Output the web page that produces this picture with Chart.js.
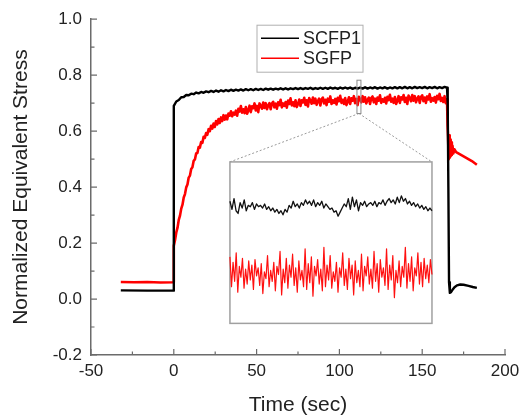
<!DOCTYPE html>
<html>
<head>
<meta charset="utf-8">
<script src="https://cdn.jsdelivr.net/npm/chart.js@4.4.1/dist/chart.umd.min.js"></script>
<style>
  html, body { margin: 0; padding: 0; background: #fff; }
</style>
</head>
<body>
<canvas id="myChart" width="528" height="419"></canvas>
<script>
// ---- data ----
var seriesNames = ['SCFP1', 'SGFP'];
var xTicks = [-50, 0, 50, 100, 150, 200];
var yTicks = [-0.2, 0.0, 0.2, 0.4, 0.6, 0.8, 1.0];

// SCFP1 (black): baseline, loaded plateau (sampled every 1.5 s from t = 0), unloading
var scfpPreTime = [-32, -16, 0];
var scfpPre = [0.031, 0.030, 0.030];
var scfpStep = 1.5;
var scfpMain = [
  0.690,0.706,0.711,0.721,0.722,0.729,0.728,0.734,0.732,0.738,
  0.735,0.740,0.737,0.742,0.739,0.744,0.740,0.745,0.741,0.746,
  0.742,0.747,0.743,0.748,0.744,0.748,0.745,0.749,0.745,0.750,
  0.746,0.750,0.746,0.751,0.747,0.751,0.747,0.752,0.748,0.752,
  0.748,0.752,0.749,0.753,0.749,0.753,0.749,0.753,0.750,0.754,
  0.750,0.754,0.750,0.754,0.751,0.755,0.750,0.754,0.751,0.755,
  0.751,0.755,0.751,0.756,0.752,0.755,0.751,0.756,0.752,0.756,
  0.752,0.756,0.751,0.755,0.752,0.756,0.752,0.757,0.752,0.756,
  0.753,0.757,0.752,0.756,0.753,0.757,0.752,0.756,0.753,0.757,
  0.753,0.757,0.753,0.758,0.753,0.757,0.753,0.758,0.754,0.757,
  0.754,0.758,0.753,0.757,0.754,0.758,0.753,0.757,0.754,0.758,
  0.755
];
var scfpTailTime = [165.4, 165.8, 166.2, 166.7, 167.3, 168.2, 169.5, 171, 173, 175, 178, 180.5, 183];
var scfpTail = [0.70, 0.40, 0.06, 0.022, 0.024, 0.032, 0.042, 0.049, 0.052, 0.051, 0.047, 0.043, 0.040];

// SGFP (red): loaded part sampled every 0.75 s from t = 0
var sgfpPreTime = [-32, -24, -16, -8, 0];
var sgfpPre = [0.061, 0.060, 0.061, 0.059, 0.060];
var sgfpStep = 0.75;
var sgfpMain = [
  0.190,0.211,0.238,0.255,0.283,0.298,0.323,0.337,0.363,0.375,
  0.399,0.409,0.434,0.441,0.465,0.471,0.494,0.499,0.520,0.522,
  0.543,0.541,0.561,0.558,0.580,0.576,0.593,0.587,0.607,0.600,
  0.619,0.609,0.627,0.615,0.636,0.624,0.643,0.629,0.649,0.636,
  0.657,0.641,0.656,0.642,0.663,0.655,0.671,0.653,0.666,0.659,
  0.673,0.655,0.680,0.670,0.690,0.666,0.678,0.664,0.686,0.662,
  0.674,0.691,0.668,0.689,0.682,0.699,0.674,0.690,0.668,0.699,
  0.690,0.680,0.702,0.683,0.700,0.678,0.692,0.700,0.678,0.699,
  0.705,0.685,0.698,0.680,0.703,0.693,0.712,0.685,0.699,0.690,
  0.704,0.684,0.709,0.697,0.717,0.692,0.703,0.689,0.710,0.686,
  0.697,0.713,0.690,0.710,0.703,0.719,0.694,0.710,0.688,0.718,
  0.709,0.698,0.720,0.700,0.716,0.694,0.707,0.716,0.692,0.714,
  0.720,0.699,0.712,0.693,0.716,0.705,0.724,0.697,0.710,0.701,
  0.715,0.695,0.719,0.707,0.726,0.701,0.712,0.697,0.718,0.693,
  0.705,0.721,0.697,0.717,0.709,0.725,0.700,0.715,0.693,0.723,
  0.714,0.703,0.725,0.705,0.721,0.699,0.712,0.720,0.697,0.718,
  0.724,0.703,0.716,0.697,0.720,0.709,0.728,0.701,0.714,0.705,
  0.719,0.699,0.723,0.711,0.730,0.705,0.716,0.701,0.722,0.697,
  0.709,0.725,0.701,0.721,0.713,0.729,0.704,0.719,0.697,0.727,
  0.718,0.707,0.729,0.709,0.725,0.703,0.716,0.724,0.701,0.722,
  0.728,0.707,0.720,0.701,0.724,0.713,0.732,0.705,0.718,0.709,
  0.722,0.702,0.726,0.714,0.733,0.708,0.719,0.704,0.725,0.700,
  0.714
];
var sgfpTailTime = [165.3, 165.6, 166, 166.3, 166.6, 166.9, 167.2, 167.5, 167.9, 168.3, 168.8, 169.5, 170.5, 175, 180, 183];
var sgfpTail = [0.62, 0.58, 0.50, 0.585, 0.505, 0.57, 0.51, 0.56, 0.515, 0.548, 0.52, 0.535, 0.525, 0.51, 0.493, 0.48];

// inset: zoom window (time, stress) and where the enlarged view sits (main axis units)
var zoomTime = [110.6, 113.0];
var zoomStress = [0.663, 0.782];
var insetBoxTime = [33.9, 155.9];
var insetBoxStress = [-0.087, 0.49];

var insetScfp = [
  0.753,0.747,0.755,0.746,0.744,0.752,0.748,0.754,0.746,0.750,
  0.749,0.752,0.747,0.751,0.749,0.750,0.748,0.751,0.747,0.749,
  0.746,0.748,0.745,0.747,0.744,0.746,0.743,0.747,0.745,0.750,
  0.748,0.753,0.749,0.751,0.748,0.752,0.750,0.754,0.751,0.753,
  0.750,0.754,0.749,0.752,0.750,0.753,0.748,0.751,0.749,0.747,
  0.748,0.745,0.746,0.742,0.745,0.748,0.751,0.749,0.755,0.747,
  0.756,0.749,0.754,0.746,0.752,0.750,0.753,0.749,0.751,0.752,
  0.750,0.753,0.749,0.752,0.751,0.754,0.750,0.753,0.755,0.752,
  0.754,0.751,0.756,0.752,0.757,0.753,0.755,0.751,0.753,0.750,
  0.752,0.749,0.751,0.748,0.750,0.747,0.749,0.746,0.748,0.746
];
var insetSgfp = [
  0.712,0.690,0.708,0.694,0.715,0.686,0.705,0.697,0.711,0.689,
  0.703,0.692,0.709,0.695,0.706,0.688,0.710,0.698,0.704,0.691,
  0.707,0.685,0.701,0.696,0.713,0.690,0.702,0.694,0.708,0.687,
  0.705,0.699,0.716,0.684,0.703,0.693,0.711,0.689,0.706,0.697,
  0.714,0.691,0.704,0.686,0.709,0.695,0.702,0.690,0.718,0.688,
  0.707,0.693,0.712,0.683,0.705,0.698,0.710,0.692,0.703,0.687,
  0.719,0.690,0.706,0.695,0.713,0.689,0.701,0.694,0.708,0.686,
  0.704,0.697,0.715,0.691,0.703,0.688,0.711,0.696,0.706,0.684,
  0.709,0.693,0.702,0.690,0.714,0.687,0.705,0.698,0.712,0.692,
  0.703,0.689,0.716,0.694,0.707,0.686,0.710,0.697,0.704,0.691,
  0.718,0.688,0.706,0.695,0.713,0.682,0.702,0.693,0.709,0.690,
  0.705,0.697,0.719,0.689,0.707,0.694,0.712,0.687,0.704,0.698,
  0.715,0.692,0.708,0.690,0.711,0.696,0.706,0.693,0.710,0.699
];

// ---- helpers ----
function pairs(times, vals) {
  return vals.map(function (v, i) { return { x: times[i], y: v }; });
}
function sampled(start, step, vals) {
  return vals.map(function (v, i) { return { x: start + i * step, y: v }; });
}
function spread(range, vals) {
  var step = (range[1] - range[0]) / (vals.length - 1);
  return sampled(range[0], step, vals);
}
// hidden axis limits so that the zoom window lands on the inset box
function hiddenRange(zoom, box, main) {
  var s = (zoom[1] - zoom[0]) / (box[1] - box[0]);
  return { min: zoom[0] - (box[0] - main[0]) * s, max: zoom[0] + (main[1] - box[0]) * s };
}

var xRange = [xTicks[0], xTicks[xTicks.length - 1]];
var yRange = [yTicks[0], yTicks[yTicks.length - 1]];
var xi = hiddenRange(zoomTime, insetBoxTime, xRange);
var yi = hiddenRange(zoomStress, insetBoxStress, yRange);

var scfpData = pairs(scfpPreTime, scfpPre)
  .concat(sampled(0, scfpStep, scfpMain))
  .concat(pairs(scfpTailTime, scfpTail));
var sgfpData = pairs(sgfpPreTime, sgfpPre)
  .concat(sampled(0, sgfpStep, sgfpMain))
  .concat(pairs(sgfpTailTime, sgfpTail));

var FONT = "'Liberation Sans', Arial, sans-serif";
var AXIS = '#6b6b6b';

var decorations = {
  id: 'decorations',
  beforeDatasetsDraw: function (chart) {
    var ctx = chart.ctx, x = chart.scales.x, y = chart.scales.y;
    var l = x.getPixelForValue(insetBoxTime[0]), r = x.getPixelForValue(insetBoxTime[1]);
    var t = y.getPixelForValue(insetBoxStress[1]), b = y.getPixelForValue(insetBoxStress[0]);
    var zl = x.getPixelForValue(zoomTime[0]), zr = x.getPixelForValue(zoomTime[1]);
    var zb = y.getPixelForValue(zoomStress[0]);
    ctx.save();
    ctx.fillStyle = '#fff';
    ctx.fillRect(l, t, r - l, b - t);
    ctx.strokeStyle = '#a0a0a0';
    ctx.lineWidth = 1.5;
    ctx.strokeRect(l, t, r - l, b - t);
    // dotted connectors
    ctx.setLineDash([2, 2]);
    ctx.lineWidth = 1;
    ctx.strokeStyle = '#9a9a9a';
    ctx.beginPath();
    ctx.moveTo((zl + zr) / 2, zb); ctx.lineTo(l, t);
    ctx.moveTo((zl + zr) / 2, zb); ctx.lineTo(r, t);
    ctx.stroke();
    ctx.restore();
  },
  afterDatasetsDraw: function (chart) {
    var ctx = chart.ctx, x = chart.scales.x, y = chart.scales.y;
    var zl = x.getPixelForValue(zoomTime[0]), zr = x.getPixelForValue(zoomTime[1]);
    var zt = y.getPixelForValue(zoomStress[1]), zb = y.getPixelForValue(zoomStress[0]);
    ctx.save();
    ctx.strokeStyle = '#8a8a8a';
    ctx.lineWidth = 1;
    ctx.strokeRect(zl, zt, zr - zl, zb - zt);
    ctx.restore();
  },
  afterDraw: function (chart) {
    var ctx = chart.ctx, x = chart.scales.x, y = chart.scales.y, a = chart.chartArea;
    ctx.save();
    ctx.strokeStyle = AXIS;
    ctx.lineWidth = 1.2;
    ctx.beginPath();
    // inward ticks, majors at the labels and minors halfway
    for (var i = 0; i < xTicks.length; i++) {
      var px = x.getPixelForValue(xTicks[i]);
      ctx.moveTo(px, a.bottom); ctx.lineTo(px, a.bottom - 6);
      if (i < xTicks.length - 1) {
        var pm = x.getPixelForValue((xTicks[i] + xTicks[i + 1]) / 2);
        ctx.moveTo(pm, a.bottom); ctx.lineTo(pm, a.bottom - 3.5);
      }
    }
    for (var j = 0; j < yTicks.length; j++) {
      var py = y.getPixelForValue(yTicks[j]);
      ctx.moveTo(a.left, py); ctx.lineTo(a.left + 6, py);
      if (j < yTicks.length - 1) {
        var qm = y.getPixelForValue((yTicks[j] + yTicks[j + 1]) / 2);
        ctx.moveTo(a.left, qm); ctx.lineTo(a.left + 3.5, qm);
      }
    }
    ctx.stroke();

    // legend box
    var lx = a.left + 166, ly = a.top + 6, lw = 106, lh = 47;
    ctx.fillStyle = '#fff';
    ctx.fillRect(lx, ly, lw, lh);
    ctx.strokeStyle = '#b0b0b0';
    ctx.lineWidth = 1;
    ctx.strokeRect(lx, ly, lw, lh);
    ctx.font = '18px ' + FONT;
    ctx.textBaseline = 'middle';
    chart.data.datasets.forEach(function (ds) {
      if (!ds.label) return;
      var k = seriesNames.indexOf(ds.label);
      var yy = ly + 13 + k * 20;
      ctx.strokeStyle = ds.borderColor;
      ctx.lineWidth = 1.5;
      ctx.beginPath(); ctx.moveTo(lx + 4, yy); ctx.lineTo(lx + 42, yy); ctx.stroke();
      ctx.fillStyle = '#222';
      ctx.fillText(ds.label, lx + 46, yy + 1);
    });
    ctx.restore();
  }
};

var ctx = document.getElementById('myChart').getContext('2d');
var myChart = new Chart(ctx, {
  type: 'line',
  data: {
    datasets: [
      { label: seriesNames[0], data: scfpData, borderColor: '#000', borderWidth: 2.4, pointRadius: 0 },
      { label: seriesNames[1], data: sgfpData, borderColor: '#ff0000', borderWidth: 2.6, pointRadius: 0 },
      { data: spread(zoomTime, insetScfp), borderColor: '#111', borderWidth: 1.3, pointRadius: 0, xAxisID: 'xi', yAxisID: 'yi' },
      { data: spread(zoomTime, insetSgfp), borderColor: '#ff1010', borderWidth: 1.2, pointRadius: 0, xAxisID: 'xi', yAxisID: 'yi' }
    ]
  },
  options: {
    responsive: false,
    animation: false,
    layout: { padding: { top: 14, right: 23, left: 0, bottom: 0 } },
    elements: { line: { tension: 0, borderJoinStyle: 'round' } },
    plugins: { legend: { display: false }, tooltip: { enabled: false } },
    scales: {
      x: {
        type: 'linear',
        min: xRange[0], max: xRange[1],
        afterBuildTicks: function (s) { s.ticks = xTicks.map(function (v) { return { value: v }; }); },
        afterFit: function (s) { s.height = 64; },
        grid: { display: false, drawTicks: false },
        border: { display: true, color: AXIS, width: 1.5 },
        ticks: { color: '#222', font: { size: 17, family: FONT }, padding: 6, maxRotation: 0 },
        title: { display: true, text: 'Time (sec)', color: '#222', font: { size: 21, family: FONT }, padding: { top: 0, bottom: 1 } }
      },
      y: {
        type: 'linear',
        min: yRange[0], max: yRange[1],
        afterBuildTicks: function (s) { s.ticks = yTicks.map(function (v) { return { value: v }; }); },
        afterFit: function (s) { s.width = 91; },
        grid: { display: false, drawTicks: false },
        border: { display: true, color: AXIS, width: 1.5 },
        ticks: {
          color: '#222', font: { size: 17, family: FONT }, padding: 9,
          callback: function (v) { return (Math.abs(v) < 1e-9 ? 0 : v).toFixed(1); }
        },
        title: { display: true, text: 'Normalized Equivalent Stress', color: '#222', font: { size: 21, family: FONT }, padding: { top: 9, bottom: 0 } }
      },
      xi: { type: 'linear', display: false, min: xi.min, max: xi.max },
      yi: { type: 'linear', display: false, min: yi.min, max: yi.max }
    }
  },
  plugins: [decorations]
});
</script>
</body>
</html>
